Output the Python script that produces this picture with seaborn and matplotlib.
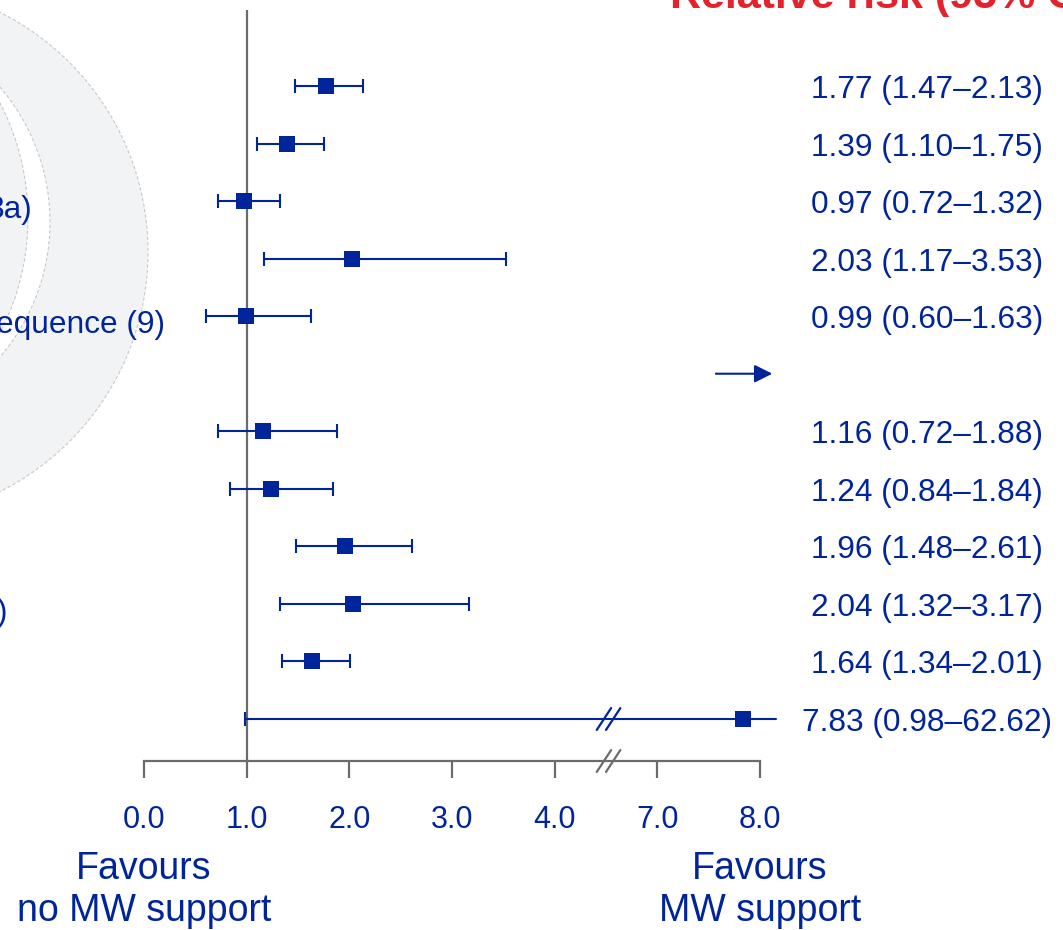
import numpy as np
import pandas as pd
import matplotlib
matplotlib.use("Agg")
import matplotlib.pyplot as plt
from matplotlib.patches import Circle
import seaborn as sns

# data (relative risk with 95% CI)
rows = [0, 1, 2, 3, 4, 6, 7, 8, 9, 10, 11]
rr = [1.77, 1.39, 0.97, 2.03, 0.99, 1.16, 1.24, 1.96, 2.04, 1.64, 7.83]
ci_low = [1.47, 1.10, 0.72, 1.17, 0.60, 0.72, 0.84, 1.48, 1.32, 1.34, 0.98]
ci_high = [2.13, 1.75, 1.32, 3.53, 1.63, 1.88, 1.84, 2.61, 3.17, 2.01, 62.62]
arrow_row = 5
tick_values = [0.0, 1.0, 2.0, 3.0, 4.0, 7.0, 8.0]
tick_labels = ["0.0", "1.0", "2.0", "3.0", "4.0", "7.0", "8.0"]
left_fragments = {2: "3a)", 4: "equence (9)", 9: ")"}
left_fragment_x = {2: -1.09, 4: 0.205, 9: -1.33}

BLUE = "#00249a"
GREY = "#6b6b6b"
RED = "#e5212b"

sns.set_theme(style="white")
plt.rcParams["font.family"] = ["Liberation Sans", "DejaVu Sans"]


def to_axis(v):
    # broken axis: everything above the break is shifted left by 2 units
    return v if v <= 4.5 else v - 2.0


x_max = 6.16
df = pd.DataFrame({"row": rows, "rr": rr, "lo": ci_low, "hi": ci_high})
df["x"] = df["rr"].map(to_axis)
df["x_lo"] = df["lo"].map(to_axis)
df["x_hi"] = df["hi"].map(lambda v: min(to_axis(v), x_max))

fig = plt.figure(figsize=(10.63, 9.30), dpi=100)

# background decoration (grey rings on the left)
bg = fig.add_axes([0, 0, 1, 1], zorder=0)
bg.set_xlim(0, 1063)
bg.set_ylim(930, 0)
bg.axis("off")
ring_fill = "#f2f3f5"
bg.add_patch(Circle((-120, 252), 268, facecolor=ring_fill, edgecolor="#c8c8c8",
                    lw=0.8, ls=(0, (3, 2))))
bg.add_patch(Circle((-157, 222), 207, facecolor="white", edgecolor="#c8c8c8",
                    lw=0.8, ls=(0, (3, 2))))
bg.add_patch(Circle((-222, 218), 250, facecolor=ring_fill, edgecolor="#c8c8c8",
                    lw=0.8, ls=(0, (3, 2))))

# main forest plot axes: x 0..6 spans px 144..760, bottom spine at px 761
ax = fig.add_axes([144 / 1063, (930 - 761) / 930, 616 / 1063, 761 / 930], zorder=1)
ax.set_facecolor("none")
ax.set_xlim(0, 6)
ax.set_ylim(11.73, -1.494)

ax.vlines(1.0, -1.32, 11.73, color=GREY, lw=1.6, zorder=1)

main = df.iloc[:-1]
ax.errorbar(main["x"], main["row"],
            xerr=[main["x"] - main["x_lo"], main["x_hi"] - main["x"]],
            fmt="none", ecolor=BLUE, elinewidth=1.5, capsize=5, capthick=1.5,
            zorder=2)
last = df.iloc[-1]
ax.plot([last["x_lo"], last["x_hi"]], [last["row"], last["row"]], color=BLUE,
        lw=1.5, clip_on=False, zorder=2)
ax.plot(last["x_lo"], last["row"], marker="|", ms=10, mew=1.5, color=BLUE,
        clip_on=False, zorder=2)

sns.scatterplot(data=df, x="x", y="row", marker="s", s=130, color=BLUE,
                edgecolor=BLUE, linewidth=0, ax=ax, zorder=3, clip_on=False,
                legend=False)

# arrow row
ax.annotate("", xy=(6.12, arrow_row), xytext=(5.57, arrow_row),
            arrowprops=dict(arrowstyle="-|>", color=BLUE, lw=1.5,
                            mutation_scale=27, shrinkA=0, shrinkB=0),
            annotation_clip=False)

# RR text column
for _, r in df.iterrows():
    ax.text(7.63, r["row"] + 0.07,
            f"{r['rr']:.2f} ({r['lo']:.2f}\u2013{r['hi']:.2f})",
            ha="center", va="center", fontsize=22.8, color=BLUE)

# left labels (cut off by the frame)
for row, txt in left_fragments.items():
    ax.text(left_fragment_x[row], row + 0.15, txt, ha="right", va="center",
            fontsize=22.8, color=BLUE)

# axis styling
for side in ["top", "right", "left"]:
    ax.spines[side].set_visible(False)
ax.spines["bottom"].set_color(GREY)
ax.spines["bottom"].set_linewidth(1.6)
ax.spines["bottom"].set_bounds(0, 6)
ax.set_xticks([to_axis(v) for v in tick_values])
ax.set_xticklabels(tick_labels)
ax.set_yticks([])
ax.tick_params(axis="x", direction="out", length=12.5, width=1.6, color=GREY,
               labelcolor=BLUE, labelsize=22, pad=19, bottom=True)
ax.set_xlabel("")
ax.set_ylabel("")

# break marks on axis and on the long CI line
for y0 in [11.73, last["row"]]:
    for dx in [0.0, 0.09]:
        col = GREY if y0 == 11.73 else BLUE
        ax.plot([4.41 + dx, 4.55 + dx], [y0 + 0.19, y0 - 0.19], color=col,
                lw=1.6, clip_on=False, zorder=4)

# favours labels
ax.text(0.0, 13.97, "Favours\nno MW support", ha="center", va="center",
        fontsize=27, color=BLUE, linespacing=1.2, clip_on=False)
ax.text(6.0, 13.97, "Favours\nMW support", ha="center", va="center",
        fontsize=27, color=BLUE, linespacing=1.2, clip_on=False)

fig.text(670 / 1063, 1 - 8 / 930, "Relative risk (95% CI)", ha="left",
         va="baseline", fontsize=31, fontweight="bold", color=RED)

fig.savefig("out.png", dpi=100)
